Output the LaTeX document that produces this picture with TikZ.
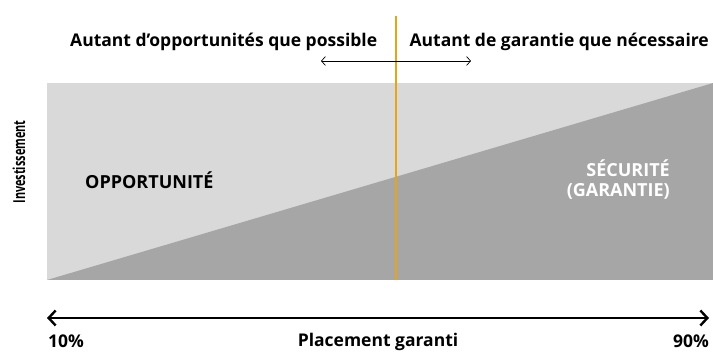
\documentclass[tikz,border=0pt]{standalone}
\usepackage{fontspec}
\setmainfont{Open Sans}
\usetikzlibrary{arrows.meta}
\definecolor{clair}{HTML}{D9D9D9}
\definecolor{fonce}{HTML}{A6A6A6}
\definecolor{orange}{HTML}{E8A317}
\tikzset{
    etiquette/.style={font=\bfseries\fontsize{17.5}{20}\selectfont, inner sep=0pt},
    zone/.style={font=\bfseries\fontsize{18}{21}\selectfont, inner sep=0pt},
}
\begin{document}
\begin{tikzpicture}[x=1pt, y=-1pt]
                \useasboundingbox (0,0) rectangle (713,352);
                \fill[clair] (47,83) rectangle (713,280);
                \fill[fonce] (47,280) -- (713,83) -- (713,280) -- cycle;

                \node[etiquette, anchor=base west] (oppo) at (70,47) {Autant d’opportunités que possible};
                \node[etiquette, anchor=base east] (gara) at (709,47) {Autant de garantie que nécessaire};
                \coordinate (haut) at (396,16);
                \coordinate (bas) at (396,280);
                \draw[orange, line width=2.6pt] (haut) -- (bas);
                \coordinate (gauche) at (321,61);
                \coordinate (droite) at (471,61);
                \draw[{Straight Barb[length=4pt,width=9pt]}-{Straight Barb[length=4pt,width=9pt]}, line width=0.7pt] (gauche) -- (droite);

                \node[inner sep=0pt, font=\bfseries\fontsize{16.5}{19}\selectfont, rotate=90] (inv) at (19,162) {\scalebox{0.66}[1]{Investissement}};
                \node[zone, anchor=base west] (opport) at (85,189) {OPPORTUNITÉ};
                \node[zone, white, anchor=base east] (secu) at (670,177) {SÉCURITÉ};
                \node[zone, white, anchor=base east] (garantie) at (670,197) {(GARANTIE)};

                \coordinate (debut) at (47,318);
                \coordinate (fin) at (709,318);
                \draw[{Straight Barb[length=7pt,width=15pt]}-{Straight Barb[length=7pt,width=15pt]}, line width=2.4pt] (debut) -- (fin);
                \node[etiquette, anchor=base west] (dix) at (48,348) {10\%};
                \node[etiquette, anchor=base] (place) at (378,347) {Placement garanti};
                \node[etiquette, anchor=base east] (nonante) at (709,348) {90\%};
            \end{tikzpicture}
\end{document}
